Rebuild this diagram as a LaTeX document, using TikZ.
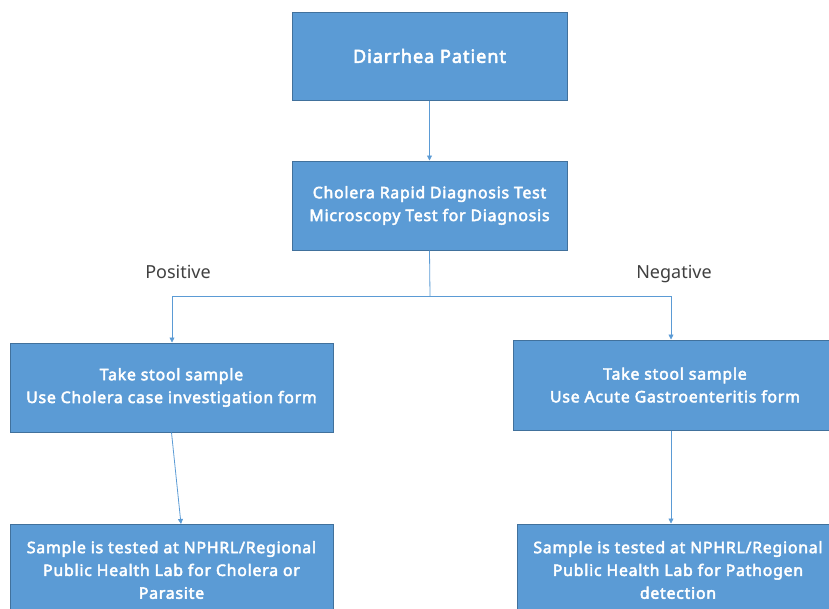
\documentclass[tikz,border=0pt]{standalone}
\usepackage{fontspec}
\setmainfont{Noto Sans}
\newfontfamily\boxfont{Noto Sans}[FakeBold=3, LetterSpace=5]
\usetikzlibrary{arrows.meta}
\definecolor{boxfill}{HTML}{5B9BD5}
\definecolor{boxline}{HTML}{41719C}
\definecolor{labelgray}{HTML}{404040}
\begin{document}
\begin{tikzpicture}[x=1pt,y=-1pt,
  box/.style={draw=boxline, line width=1pt, fill=boxfill, text=white,
    font=\boxfont\fontsize{15.8}{22.8}\selectfont, align=center, inner sep=0pt},
  conn/.style={draw=boxfill, line width=0.8pt},
  arr/.style={conn, -{Triangle[length=5pt,width=5pt]}},
  lbl/.style={text=labelgray, font=\fontsize{18}{20}\selectfont, anchor=base}]
\useasboundingbox (0,0) rectangle (829,608);
\clip (0,0) rectangle (829,608);
\node[box, minimum width=275pt, minimum height=88pt,
  font=\boxfont\fontsize{18.2}{24}\selectfont] (patient) at (429.5,56) {Diarrhea Patient};
\node[box, minimum width=275pt, minimum height=89pt] (test) at (429.5,205.5)
  {Cholera Rapid Diagnosis Test\\Microscopy Test for Diagnosis};
\node[box, minimum width=323pt, minimum height=89pt] (posform) at (171.5,387.5)
  {Take stool sample\\Use Cholera case investigation form};
\node[box, minimum width=324pt, minimum height=90pt] (negform) at (675,385)
  {Take stool sample\\Use Acute Gastroenteritis form};
\node[box, minimum width=323pt, minimum height=92pt] (poslab) at (171.5,570)
  {Sample is tested at NPHRL/Regional\\Public Health Lab for Cholera or\\Parasite};
\node[box, minimum width=322pt, minimum height=92pt] (neglab) at (678,570)
  {Sample is tested at NPHRL/Regional\\Public Health Lab for Pathogen\\detection};
\node[lbl] (pos) at (178,278) {Positive};
\node[lbl] (neg) at (674,278) {Negative};
\coordinate (split) at (430,296);
\coordinate (posturn) at (172,296);
\coordinate (negturn) at (671,296);
\coordinate (posend) at (181,524);
\draw[arr] (patient) -- (test);
\draw[conn] (test.south) -- (split);
\draw[arr] (split) -- (posturn) -- (posturn |- posform.north);
\draw[arr] (split) -- (negturn) -- (negturn |- negform.north);
\draw[arr] (posform.south) -- (posend);
\draw[arr] (negform.south -| negturn) -- (neglab.north -| negturn);
\end{tikzpicture}
\end{document}
